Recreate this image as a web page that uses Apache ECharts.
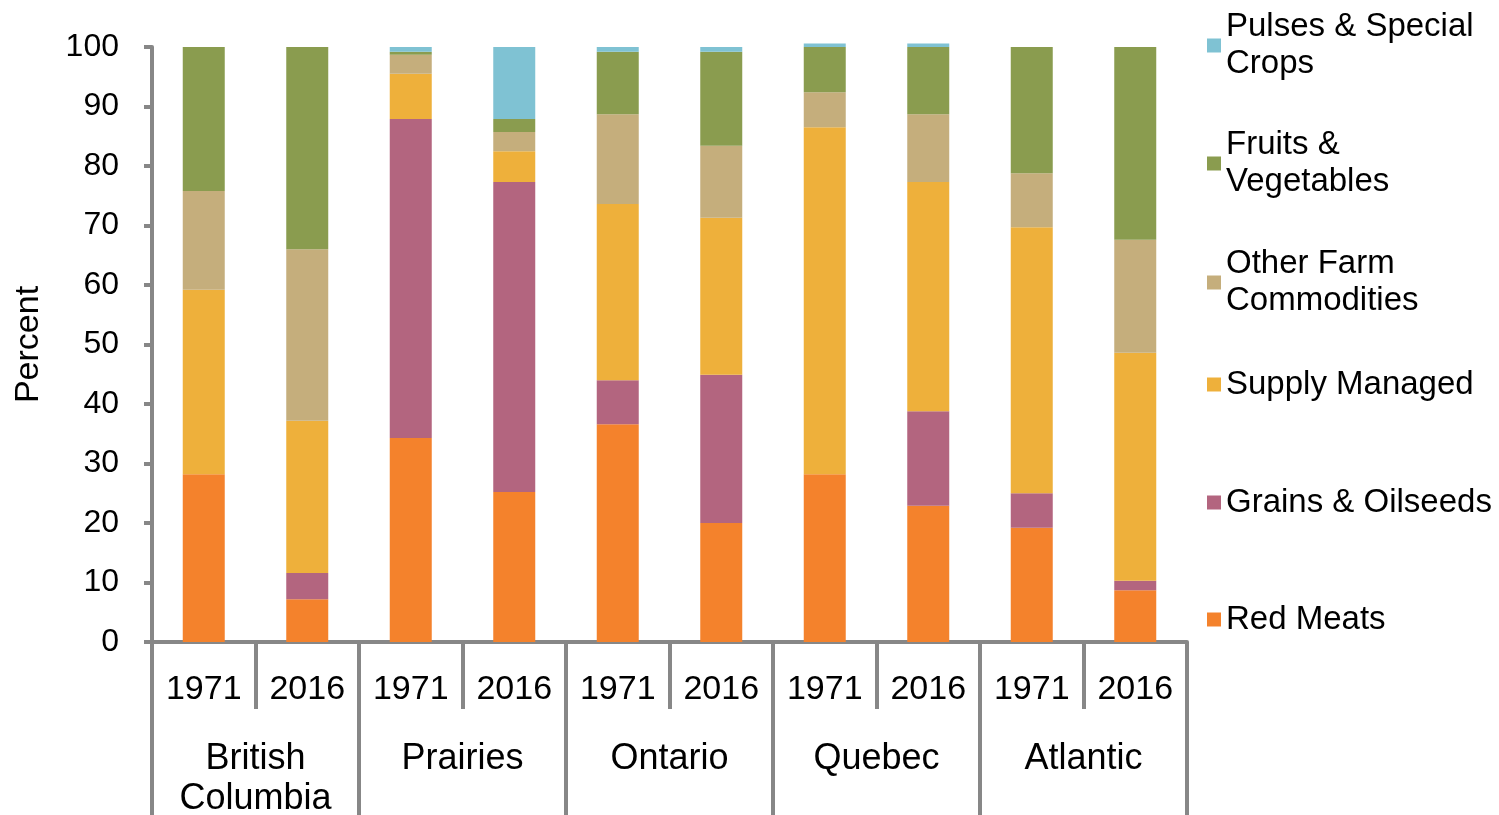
<!DOCTYPE html>
<html>
<head>
<meta charset="utf-8">
<script src="https://cdn.jsdelivr.net/npm/echarts@6/dist/echarts.min.js"></script>
<style>
html,body{margin:0;padding:0;background:#fff;}
#chart{width:1499px;height:815px;}
</style>
</head>
<body>
<div id="chart"></div>
<script>
// ---- Data ----
const years = ['1971','2016','1971','2016','1971','2016','1971','2016','1971','2016'];
const regions = ['British\nColumbia','Prairies','Ontario','Quebec','Atlantic'];
const yTicks = [0,10,20,30,40,50,60,70,80,90,100];

const seriesNames = ['Red Meats','Grains & Oilseeds','Supply Managed','Other Farm Commodities','Fruits & Vegetables','Pulses & Special Crops'];
const redMeats = [28.2, 7.2, 34.3, 25.2, 36.6, 20.0, 28.2, 22.9, 19.2, 8.7];
const grainsOilseeds = [0, 4.4, 53.6, 52.1, 7.4, 24.9, 0, 15.9, 5.8, 1.6];
const supplyManaged = [31.0, 25.6, 7.6, 5.2, 29.6, 26.4, 58.3, 38.5, 44.7, 38.3];
const otherFarm = [16.6, 28.8, 3.2, 3.2, 15.1, 12.1, 5.9, 11.4, 9.1, 19.0];
const fruitsVeg = [24.2, 34.0, 0.5, 2.2, 10.5, 15.8, 7.6, 11.3, 21.2, 32.4];
const pulsesSpecial = [0, 0, 0.8, 12.1, 0.8, 0.8, 0.6, 0.6, 0, 0];

const legendOrder = ['Pulses & Special Crops','Fruits & Vegetables','Other Farm Commodities','Supply Managed','Grains & Oilseeds','Red Meats'];
const legendLabels = ['Pulses & Special\nCrops','Fruits &\nVegetables','Other Farm\nCommodities','Supply Managed','Grains & Oilseeds','Red Meats'];

// ---- Styles ----
const colors = {
  'Red Meats':'#F4822C',
  'Grains & Oilseeds':'#B3657F',
  'Supply Managed':'#EEB03B',
  'Other Farm Commodities':'#C5AE7C',
  'Fruits & Vegetables':'#8A9C4F',
  'Pulses & Special Crops':'#7FC2D3'
};
const FONT = "'Liberation Sans', Arial, sans-serif";
const AXIS = '#878787';
const values = [redMeats, grainsOilseeds, supplyManaged, otherFarm, fruitsVeg, pulsesSpecial];

const LH = 37;
const legendTops = [-10, 108, 227, 366, 484, 601];

const chart = echarts.init(document.getElementById('chart'), null, {renderer:'canvas'});
const option = {
  animation:false,
  backgroundColor:'#fff',
  textStyle:{fontFamily:FONT},
  grid:{left:152,right:312,top:47,bottom:173,containLabel:false,outerBoundsMode:'none'},
  legend: legendOrder.map((n,i)=>({
    data:[n],
    left:1207,
    top:legendTops[i],
    padding:0,
    orient:'vertical',
    icon:'rect',
    itemWidth:14,
    itemHeight:14,
    selectedMode:false,
    formatter:()=>legendLabels[i],
    textStyle:{
      fontFamily:FONT,fontSize:33,color:'#000',lineHeight:LH,
      padding: legendLabels[i].indexOf('\n')>=0 ? [LH,0,0,0] : 0
    }
  })),
  xAxis:[
    {
      type:'category', data:years, gridIndex:0, position:'bottom',
      axisLine:{show:true,lineStyle:{color:AXIS,width:4}},
      axisTick:{show:true,length:67,lineStyle:{color:AXIS,width:4}},
      axisLabel:{interval:0,fontFamily:FONT,fontSize:34,color:'#000',margin:31}
    },
    {
      type:'category', data:regions, gridIndex:0, position:'bottom',
      axisLine:{show:false},
      axisTick:{show:true,length:185,lineStyle:{color:AXIS,width:4}},
      axisLabel:{interval:0,fontFamily:FONT,fontSize:36,lineHeight:40,color:'#000',margin:97}
    }
  ],
  yAxis:{
    type:'value',min:0,max:100,interval:10,
    name:'Percent',nameLocation:'middle',nameGap:106,
    nameTextStyle:{fontFamily:FONT,fontSize:34,color:'#000'},
    axisLine:{show:true,lineStyle:{color:AXIS,width:4}},
    axisTick:{show:true,length:8,lineStyle:{color:AXIS,width:4}},
    splitLine:{show:false},
    axisLabel:{fontFamily:FONT,fontSize:32,color:'#000',margin:33,
      formatter:(v)=> yTicks.indexOf(v)>=0 ? String(v) : ''}
  },
  series: seriesNames.map((n,i)=>({
    name:n, type:'bar', stack:'total', xAxisIndex:0, barWidth:42, clip:false,
    itemStyle:{color:colors[n]},
    data:values[i]
  }))
};
chart.setOption(option);
</script>
</body>
</html>
